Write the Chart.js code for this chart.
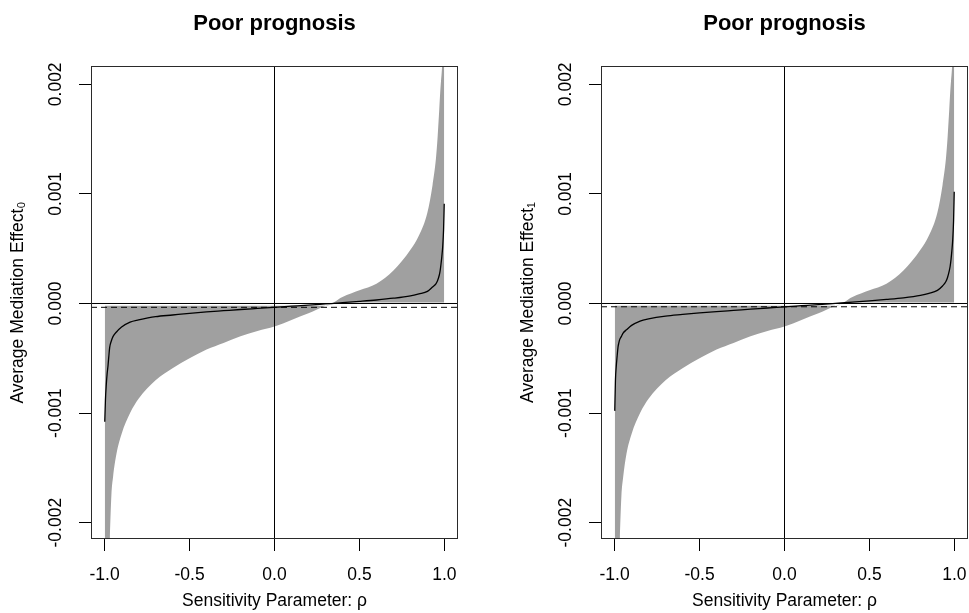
<!DOCTYPE html>
<html>
<head>
<meta charset="utf-8">
<script src="https://cdn.jsdelivr.net/npm/chart.js@4.4.1/dist/chart.umd.min.js"></script>
<style>
  html, body { margin: 0; padding: 0; background: #fff; overflow: hidden; }
  #wrap { position: relative; width: 969px; height: 613px; }
  canvas { position: absolute; top: 0; }
  #c0 { left: 0; }
  #c1 { left: 510px; }
</style>
</head>
<body>
<div id="wrap">
  <canvas id="c0" width="480" height="613"></canvas>
  <canvas id="c1" width="459" height="613"></canvas>
</div>
<script>
// Sensitivity parameter grid
const rho = [-0.999, -0.995, -0.99, -0.985, -0.98, -0.975, -0.97, -0.96, -0.95, -0.93,
             -0.9, -0.85, -0.8, -0.7, -0.6, -0.5, -0.4, -0.3, -0.2, -0.1,
             0,
             0.1, 0.2, 0.3, 0.4, 0.5, 0.6, 0.7, 0.8, 0.85, 0.9,
             0.93, 0.95, 0.96, 0.97, 0.975, 0.98, 0.985, 0.99, 0.995, 0.999];

// Average mediation effect (control condition) and its confidence band
const acme0 = [-0.00108, -0.00088, -0.00074, -0.00064, -0.00057, -0.00048, -0.00040, -0.00034, -0.00030, -0.00026,
               -0.000215, -0.00017, -0.00015, -0.00012, -0.000105, -0.00009, -0.000077, -0.000066, -0.000055, -0.000045,
               -0.000035,
               -0.000025, -0.000015, -0.000004, 0.000007, 0.000019, 0.000032, 0.000048, 0.00007, 0.000088, 0.00011,
               0.00015, 0.00018, 0.00021, 0.00026, 0.0003, 0.00036, 0.00043, 0.00052, 0.00067, 0.00091];
const lower0 = [-0.0060, -0.0045, -0.0036, -0.0032, -0.0028, -0.0025, -0.0022, -0.00175, -0.00158, -0.00137,
                -0.00119, -0.00100, -0.00087, -0.00070, -0.00059, -0.00050, -0.00042, -0.00036, -0.00030, -0.00025,
                -0.00021,
                -0.00015, -0.00009, -0.00002, 0.00001, 0.00001, 0.00001, 0.00001, 0.00001, 0.00001, 0.00001,
                0.00001, 0.00001, 0.00001, 0.00001, 0.00001, 0.00001, 0.00001, 0.00001, 0.00001, 0.00001];
const upper0 = [-0.00002, -0.00002, -0.00002, -0.00002, -0.00002, -0.00002, -0.00002, -0.00002, -0.00002, -0.00002,
                -0.00002, -0.00002, -0.00002, -0.00002, -0.00002, -0.00002, -0.00002, -0.00002, -0.00002, -0.00002,
                -0.00002,
                -0.00002, -0.00002, -0.00002, 0.00006, 0.00012, 0.00018, 0.0003, 0.00049, 0.00062, 0.00083,
                0.00108, 0.00132, 0.00152, 0.00178, 0.00192, 0.00203, 0.00213, 0.0023, 0.0028, 0.0038];

// Average mediation effect (treatment condition) and its confidence band
const acme1 = [-0.00098, -0.0007, -0.00057, -0.00048, -0.0004, -0.00036, -0.00033, -0.0003, -0.00027, -0.00024,
               -0.0002, -0.00016, -0.00014, -0.000115, -0.0001, -0.000086, -0.000074, -0.000063, -0.000052, -0.000041,
               -0.00003,
               -0.00002, -0.00001, 0.000001, 0.000012, 0.000024, 0.000037, 0.000052, 0.000074, 0.000092, 0.00012,
               0.00016, 0.0002, 0.00024, 0.0003, 0.00034, 0.0004, 0.00048, 0.00058, 0.00075, 0.00102];
const lower1 = [-0.0060, -0.0045, -0.0036, -0.0032, -0.0028, -0.0025, -0.0022, -0.00176, -0.00159, -0.00137,
                -0.00119, -0.00100, -0.00087, -0.00070, -0.00059, -0.00050, -0.00042, -0.00036, -0.00030, -0.00025,
                -0.00021,
                -0.00015, -0.00009, -0.00002, 0.00001, 0.00001, 0.00001, 0.00001, 0.00001, 0.00001, 0.00001,
                0.00001, 0.00001, 0.00001, 0.00001, 0.00001, 0.00001, 0.00001, 0.00001, 0.00001, 0.00001];
const upper1 = [-0.00002, -0.00002, -0.00002, -0.00002, -0.00002, -0.00002, -0.00002, -0.00002, -0.00002, -0.00002,
                -0.00002, -0.00002, -0.00002, -0.00002, -0.00002, -0.00002, -0.00002, -0.00002, -0.00002, -0.00002,
                -0.00002,
                -0.00002, -0.00002, -0.00002, 0.00006, 0.00012, 0.00018, 0.0003, 0.00049, 0.00062, 0.00083,
                0.00108, 0.00132, 0.00152, 0.00178, 0.00192, 0.00203, 0.00213, 0.0023, 0.0028, 0.0038];

// Axis ticks and labels
const xTicks = [-1, -0.5, 0, 0.5, 1];
const xTickLabels = ['-1.0', '-0.5', '0.0', '0.5', '1.0'];
const yTicks = [-0.002, -0.001, 0, 0.001, 0.002];
const yTickLabels = ['-0.002', '-0.001', '0.000', '0.001', '0.002'];

const panelTitles = ['Poor prognosis', 'Poor prognosis'];
const yTitles = ['Average Mediation Effect\u2080', 'Average Mediation Effect\u2081'];
const xTitle = 'Sensitivity Parameter: \u03C1';

const X_MIN = -1.08, X_MAX = 1.08;
const Y_MIN = -0.002149, Y_MAX = 0.002167;

const FONT = "'Liberation Sans', Arial, Helvetica, sans-serif";

const toPoints = (xs, ys) => xs.map((x, i) => ({ x: x, y: ys[i] }));

// Frame around the plotting region
const boxPlugin = {
  id: 'plotBox',
  afterDraw(chart) {
    const { ctx, chartArea: a } = chart;
    ctx.save();
    ctx.strokeStyle = '#2a2a2a';
    ctx.lineWidth = 1;
    ctx.strokeRect(Math.round(a.left) + 0.5, Math.round(a.top) + 0.5,
                   Math.round(a.right - a.left) - 1, Math.round(a.bottom - a.top) - 1);
    ctx.restore();
  }
};

function makePanel(canvasId, rightPad, curve, lower, upper, title, yTitle) {
  const est = curve[rho.indexOf(0)];
  const ctx = document.getElementById(canvasId).getContext('2d');
  return new Chart(ctx, {
    type: 'line',
    data: {
      datasets: [
        { // point estimate curve
          data: toPoints(rho, curve),
          borderColor: '#000', borderWidth: 1.3, pointRadius: 0, fill: false,
          cubicInterpolationMode: 'monotone'
        },
        { // estimate at rho = 0
          data: [{ x: X_MIN, y: est }, { x: X_MAX, y: est }],
          borderColor: '#000', borderWidth: 1, borderDash: [6, 4], pointRadius: 0, fill: false
        },
        { // horizontal zero line
          data: [{ x: X_MIN, y: 0 }, { x: X_MAX, y: 0 }],
          borderColor: '#000', borderWidth: 1, pointRadius: 0, fill: false
        },
        { // vertical zero line
          data: [{ x: 0, y: Y_MIN }, { x: 0, y: Y_MAX }],
          borderColor: '#000', borderWidth: 1, pointRadius: 0, fill: false
        },
        { // upper confidence bound, filled down to the lower bound
          data: toPoints(rho, upper),
          borderWidth: 0, borderColor: 'rgba(0,0,0,0)', pointRadius: 0,
          backgroundColor: '#a0a0a0', fill: '+1',
          cubicInterpolationMode: 'monotone'
        },
        { // lower confidence bound
          data: toPoints(rho, lower),
          borderWidth: 0, borderColor: 'rgba(0,0,0,0)', pointRadius: 0, fill: false,
          cubicInterpolationMode: 'monotone'
        }
      ]
    },
    options: {
      responsive: false,
      animation: false,
      events: [],
      layout: { padding: { left: 0, right: rightPad, top: 0, bottom: 0 } },
      plugins: {
        legend: { display: false },
        tooltip: { enabled: false },
        title: {
          display: true, text: title, fullSize: false, color: '#000',
          font: { family: FONT, size: 22, weight: 'bold', lineHeight: 1.2 },
          padding: { top: 11, bottom: 28.6 }
        }
      },
      scales: {
        x: {
          type: 'linear', min: X_MIN, max: X_MAX,
          afterBuildTicks: s => { s.ticks = xTicks.map(v => ({ value: v })); },
          afterFit: s => { s.height = 74; s.paddingLeft = 0; s.paddingRight = 0; },
          ticks: {
            callback: (v, i) => xTickLabels[i],
            autoSkip: false, maxRotation: 0, minRotation: 0,
            color: '#000', padding: 14,
            font: { family: FONT, size: 17.5 }
          },
          grid: { drawOnChartArea: false, drawTicks: true, tickLength: 12, color: '#000', lineWidth: 1 },
          border: { display: false },
          title: {
            display: true, text: xTitle, color: '#000',
            font: { family: FONT, size: 17.5, lineHeight: 1.2 },
            padding: { top: 0, bottom: 1 }
          }
        },
        y: {
          type: 'linear', min: Y_MIN, max: Y_MAX,
          afterBuildTicks: s => { s.ticks = yTicks.map(v => ({ value: v })); },
          afterFit: s => { s.width = 91; s.paddingTop = 0; s.paddingBottom = 0; },
          ticks: {
            callback: (v, i) => yTickLabels[i],
            autoSkip: false, minRotation: 90, maxRotation: 90,
            crossAlign: 'center', color: '#000', padding: -2,
            font: { family: FONT, size: 17.5 }
          },
          grid: { drawOnChartArea: false, drawTicks: true, tickLength: 12, color: '#000', lineWidth: 1 },
          border: { display: false },
          title: {
            display: true, text: yTitle, color: '#000',
            font: { family: FONT, size: 17.5, lineHeight: 1.2 },
            padding: { top: 7.5, bottom: 0 }
          }
        }
      }
    },
    plugins: [boxPlugin]
  });
}

makePanel('c0', 22, acme0, lower0, upper0, panelTitles[0], yTitles[0]);
makePanel('c1', 1, acme1, lower1, upper1, panelTitles[1], yTitles[1]);
</script>
</body>
</html>
